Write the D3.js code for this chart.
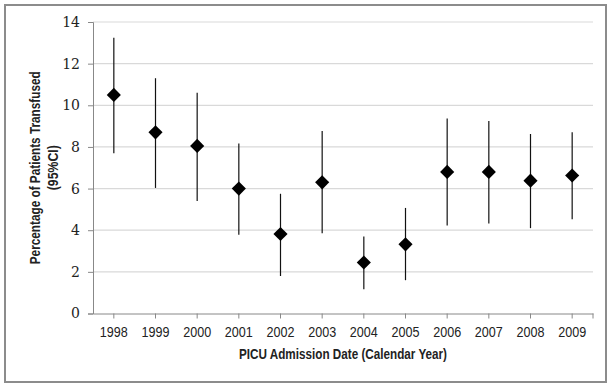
<!DOCTYPE html>
<html>
<head>
<meta charset="utf-8">
<script src="https://cdn.jsdelivr.net/npm/d3@7"></script>
<style>
  body { margin: 0; background: #fff; }
  svg { display: block; }
</style>
</head>
<body>
<svg id="chart"></svg>
<script>
// data
const years = ["1998", "1999", "2000", "2001", "2002", "2003", "2004", "2005", "2006", "2007", "2008", "2009"];
const pct   = [10.5, 8.7, 8.05, 6.0, 3.82, 6.3, 2.45, 3.32, 6.8, 6.8, 6.38, 6.63];
const lower = [7.7, 6.03, 5.4, 3.78, 1.8, 3.86, 1.17, 1.6, 4.23, 4.32, 4.1, 4.53];
const upper = [13.24, 11.3, 10.6, 8.16, 5.75, 8.77, 3.7, 5.07, 9.37, 9.24, 8.62, 8.7];
const yTicks = [0, 2, 4, 6, 8, 10, 12, 14];

let width = 613,
    height = 388;

let svg = d3.select("#chart")
    .attr("width", width)
    .attr("height", height);

// outer frame
svg.append("rect")
    .attr("x", 5).attr("y", 5)
    .attr("width", 601).attr("height", 377)
    .attr("fill", "none")
    .attr("stroke", "#8c8c8c")
    .attr("stroke-width", 2);

let plotLeft = 93, plotRight = 593, plotTop = 22, plotBottom = 313.5;

let x = d3.scaleBand().domain(years).range([plotLeft, plotRight]);
let y = d3.scaleLinear().domain([0, 14]).range([plotBottom, plotTop]);

// gridlines
svg.append("g")
    .selectAll("line")
    .data(yTicks.filter(d => d > 0))
    .join("line")
    .attr("x1", plotLeft).attr("x2", plotRight)
    .attr("y1", d => y(d)).attr("y2", d => y(d))
    .attr("stroke", "#d9d9d9")
    .attr("stroke-width", 1.2);

// y axis
let yAxis = svg.append("g")
    .attr("transform", `translate(${plotLeft},0)`)
    .call(d3.axisLeft(y).tickValues(yTicks).tickSize(5).tickPadding(8));
yAxis.select(".domain").attr("stroke", "#888");
yAxis.selectAll(".tick line").attr("stroke", "#888");
yAxis.selectAll("text")
    .style("font-family", "'DejaVu Serif', 'Liberation Serif', serif")
    .style("font-size", "14px")
    .attr("fill", "#222");

// x axis
let xAxis = svg.append("g")
    .attr("transform", `translate(0,${plotBottom})`)
    .call(d3.axisBottom(x).tickSize(5).tickSizeOuter(0).tickPadding(9));
xAxis.select(".domain").attr("stroke", "#888");
xAxis.selectAll(".tick line").attr("stroke", "#888");
xAxis.selectAll("text")
    .style("font-family", "'Liberation Sans', Arial, sans-serif")
    .style("font-size", "14px")
    .attr("fill", "#222")
    .attr("textLength", 28)
    .attr("lengthAdjust", "spacingAndGlyphs");
// tick at right end
xAxis.append("line")
    .attr("x1", plotRight).attr("x2", plotRight)
    .attr("y1", 0).attr("y2", 5)
    .attr("stroke", "#888");

// error bars
let cx = d => x(d) + x.bandwidth() / 2;
svg.append("g")
    .selectAll("line")
    .data(years)
    .join("line")
    .attr("x1", cx).attr("x2", cx)
    .attr("y1", (d, i) => y(lower[i]))
    .attr("y2", (d, i) => y(upper[i]))
    .attr("stroke", "#111")
    .attr("stroke-width", 1.2);

// diamonds
svg.append("g")
    .selectAll("path")
    .data(years)
    .join("path")
    .attr("d", d3.symbol(d3.symbolSquare, 100))
    .attr("transform", (d, i) => `translate(${cx(d)},${y(pct[i])}) rotate(45)`)
    .attr("fill", "#000");

// axis titles
svg.append("text")
    .attr("x", (plotLeft + plotRight) / 2)
    .attr("y", 359)
    .attr("text-anchor", "middle")
    .style("font-family", "'Liberation Sans', Arial, sans-serif")
    .attr("font-weight", "bold")
    .style("font-size", "15px")
    .attr("fill", "#222")
    .attr("textLength", 208)
    .attr("lengthAdjust", "spacingAndGlyphs")
    .text("PICU Admission Date (Calendar Year)");

let yTitle = svg.append("g")
    .attr("transform", `translate(0,${(plotTop + plotBottom) / 2}) rotate(-90)`);
yTitle.append("text")
    .attr("x", 0).attr("y", 40)
    .attr("text-anchor", "middle")
    .style("font-family", "'Liberation Sans', Arial, sans-serif")
    .attr("font-weight", "bold")
    .style("font-size", "14px")
    .attr("fill", "#222")
    .attr("textLength", 193)
    .attr("lengthAdjust", "spacingAndGlyphs")
    .text("Percentage of Patients Transfused");
yTitle.append("text")
    .attr("x", 0).attr("y", 58)
    .attr("text-anchor", "middle")
    .style("font-family", "'Liberation Sans', Arial, sans-serif")
    .attr("font-weight", "bold")
    .style("font-size", "14px")
    .attr("fill", "#222")
    .attr("textLength", 45)
    .attr("lengthAdjust", "spacingAndGlyphs")
    .text("(95%CI)");
</script>
</body>
</html>
